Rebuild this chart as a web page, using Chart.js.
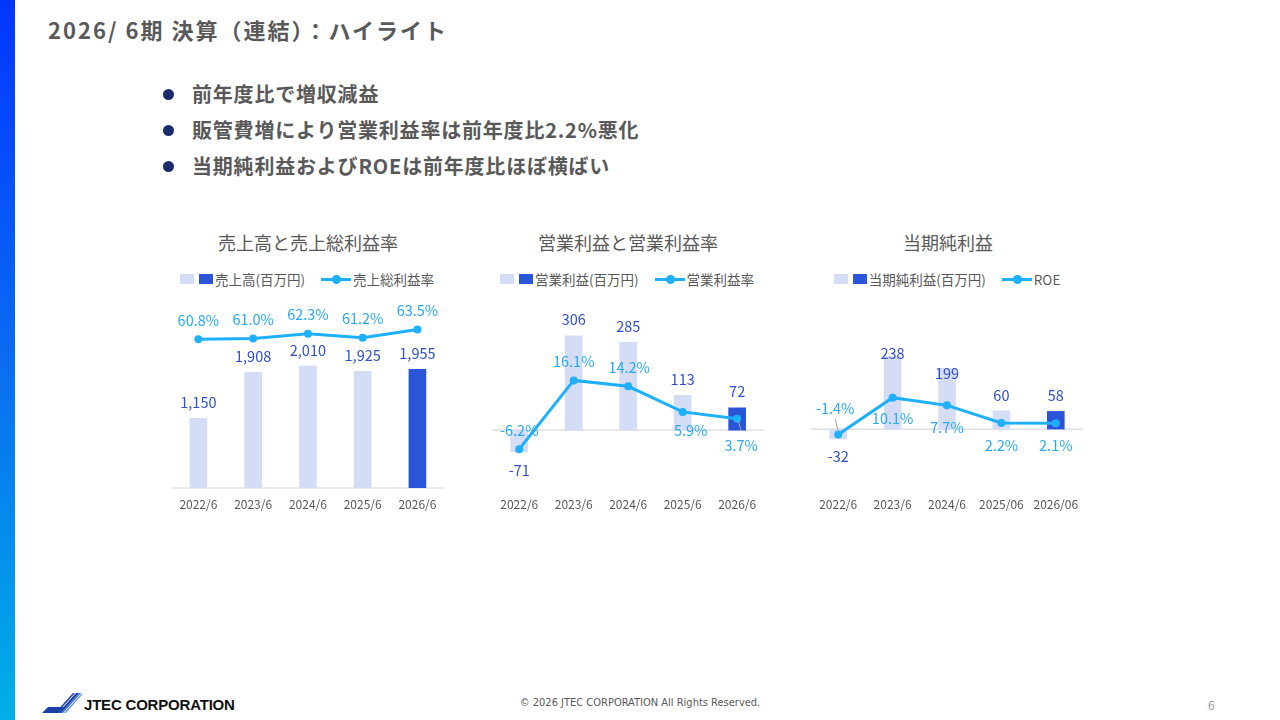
<!DOCTYPE html>
<html lang="ja">
<head>
<meta charset="utf-8">
<script src="https://cdn.jsdelivr.net/npm/chart.js@4.4.1/dist/chart.umd.min.js"></script>
<style>
  html,body{margin:0;padding:0;background:#fff;}
  body{width:1280px;height:720px;position:relative;overflow:hidden;font-family:"Noto Sans CJK JP","Noto Sans",sans-serif;color:#595959;}
  .sidebar{position:absolute;left:0;top:0;width:15px;height:720px;background:linear-gradient(to bottom,#0236ff 0%,#0a6cf0 50%,#00b0e6 100%);}
  .title{position:absolute;left:48px;top:13px;font-size:22px;font-weight:700;color:#595959;letter-spacing:2px;white-space:nowrap;}
  .bullets{position:absolute;left:160px;top:77px;margin:0;padding:0;list-style:none;}
  .bullets li{position:relative;height:36px;line-height:33px;padding-left:32px;font-size:20px;font-weight:700;color:#595959;white-space:nowrap;letter-spacing:0.8px;}
  .bullets li::before{content:"";position:absolute;left:3px;top:12px;width:11px;height:11px;border-radius:50%;background:#1b2a6b;}
  .ctitle{position:absolute;top:229px;width:320px;text-align:center;font-size:18px;color:#595959;}
  .legend{position:absolute;top:269px;width:320px;display:flex;justify-content:center;align-items:center;font-size:13.5px;color:#595959;white-space:nowrap;}
  .sw{display:inline-block;width:14px;height:10px;}
  .sw.l{background:#d5dcf6;margin-right:5px;}
  .sw.d{background:#2b55d9;margin-right:2px;}
  .ln{display:inline-block;position:relative;width:30px;height:3px;background:#1eb0fc;margin-left:16px;margin-right:2px;}
  .ln::after{content:"";position:absolute;left:11px;top:-3px;width:9px;height:9px;border-radius:50%;background:#1eb0fc;}
  .cw{position:absolute;}
  .foot{position:absolute;top:696px;left:0;width:1280px;text-align:center;font-size:11px;color:#595959;font-family:"Liberation Sans Narrow","DejaVu Sans Condensed",sans-serif;}
  .page{position:absolute;left:1208px;top:696px;font-size:12px;color:#9a9a9a;}
  .logo{position:absolute;left:42px;top:693px;}
  .logotext{position:absolute;left:84px;top:696px;font-family:"Liberation Sans",Arial,sans-serif;font-weight:700;font-size:15px;color:#111;letter-spacing:-0.2px;}
</style>
</head>
<body>
<div class="sidebar"></div>
<div class="title">2026/ 6期 決算（連結）：ハイライト</div>
<ul class="bullets">
  <li>前年度比で増収減益</li>
  <li>販管費増により営業利益率は前年度比2.2%悪化</li>
  <li>当期純利益およびROEは前年度比ほぼ横ばい</li>
</ul>

<div class="ctitle" style="left:148px">売上高と売上総利益率</div>
<div class="ctitle" style="left:468px">営業利益と営業利益率</div>
<div class="ctitle" style="left:788px">当期純利益</div>

<div class="legend" style="left:147px"><span class="sw l"></span><span class="sw d"></span>売上高(百万円)<span class="ln"></span>売上総利益率</div>
<div class="legend" style="left:467px"><span class="sw l"></span><span class="sw d"></span>営業利益(百万円)<span class="ln"></span>営業利益率</div>
<div class="legend" style="left:787px"><span class="sw l"></span><span class="sw d"></span>当期純利益(百万円)<span class="ln"></span>ROE</div>

<div class="cw" id="w1" style="left:150.6px;top:290px;width:313.8px;height:226px"><canvas id="c1"></canvas></div>
<div class="cw" id="w2" style="left:471.8px;top:290px;width:312.4px;height:226px"><canvas id="c2"></canvas></div>
<div class="cw" id="w3" style="left:791px;top:290px;width:312px;height:226px"><canvas id="c3"></canvas></div>

<svg class="logo" width="40" height="20" viewBox="0 0 40 20">
  <polygon points="0,20 6,14 22,14 16,20" fill="#1d3fa8"/>
  <polygon points="16,20 34,0 37,0 19,20" fill="#1d3fa8"/>
  <polygon points="19,20 37,0 39,0 21,20" fill="#3b6bd6"/>
  <polygon points="22,20 40,0 40,2 24,20" fill="#6f98e8"/>
  <polygon points="13,20 31,0 33,0 15,20" fill="#1d3fa8"/>
</svg>
<div class="logotext">JTEC CORPORATION</div>
<div class="foot">© 2026 JTEC CORPORATION All Rights Reserved.</div>
<div class="page">6</div>

<script>
// ---- data ----
const categories = ['2022/6','2023/6','2024/6','2025/6','2026/6'];
const categoriesNet = ['2022/6','2023/6','2024/6','2025/06','2026/06'];
const sales = [1150, 1908, 2010, 1925, 1955];
const grossMargin = [60.8, 61.0, 62.3, 61.2, 63.5];
const opProfit = [-71, 306, 285, 113, 72];
const opMargin = [-6.2, 16.1, 14.2, 5.9, 3.7];
const netIncome = [-32, 238, 199, 60, 58];
const roe = [-1.4, 10.1, 7.7, 2.2, 2.1];

// ---- styles ----
const LIGHT = '#d5dcf6', DARK = '#2b55d9', LINE = '#1eb0fc';
const BAR_LABEL = '#2f4fd0', LINE_LABEL = '#27a9f6';
const FONT = '"Noto Sans CJK JP","Noto Sans",sans-serif';

const labelPlugin = {
  id: 'valueLabels',
  beforeDatasetsDraw(chart) {
    const {ctx, chartArea} = chart;
    const y0 = chart.scales.y.getPixelForValue(0);
    ctx.save();
    ctx.strokeStyle = '#d9d9d9';
    ctx.lineWidth = 1.2;
    ctx.beginPath();
    ctx.moveTo(chartArea.left, y0);
    ctx.lineTo(chartArea.right, y0);
    ctx.stroke();
    ctx.restore();
  },
  afterDatasetsDraw(chart) {
    const {ctx} = chart;
    const cfg = chart.options.plugins.valueLabels || {};
    ctx.save();
    ctx.textAlign = 'center';
    ctx.textBaseline = 'middle';
    ctx.font = '14.5px ' + FONT;
    chart.data.datasets.forEach((ds, di) => {
      const meta = chart.getDatasetMeta(di);
      meta.data.forEach((el, i) => {
        const v = ds.data[i];
        if (ds.type === 'bar') {
          const dy = (cfg.barDy && cfg.barDy[i] != null) ? cfg.barDy[i] : (v >= 0 ? -16 : 19);
          ctx.fillStyle = BAR_LABEL;
          ctx.fillText(v.toLocaleString('en-US'), el.x, el.y + dy);
        } else {
          const dy = (cfg.lineDy && cfg.lineDy[i] != null) ? cfg.lineDy[i] : -19;
          const dx = (cfg.lineDx && cfg.lineDx[i] != null) ? cfg.lineDx[i] : 0;
          if (cfg.leaders && cfg.leaders[i]) {
            const L = cfg.leaders[i];
            ctx.strokeStyle = '#a6a6a6';
            ctx.lineWidth = 1;
            ctx.beginPath();
            ctx.moveTo(el.x + L[0], el.y + L[1]);
            ctx.lineTo(el.x + L[2], el.y + L[3]);
            ctx.stroke();
          }
          ctx.fillStyle = LINE_LABEL;
          ctx.fillText(v.toFixed(1) + '%', el.x + dx, el.y + dy);
        }
      });
    });
    ctx.restore();
  }
};

function makeChart(id, labels, bars, line, yr, y1r, labelCfg) {
  return new Chart(document.getElementById(id), {
    data: {
      labels: labels,
      datasets: [
        {
          type: 'line', data: line, yAxisID: 'y1', order: 0,
          borderColor: LINE, backgroundColor: LINE, borderWidth: 3,
          pointRadius: 4, pointBackgroundColor: LINE, pointBorderWidth: 0, tension: 0
        },
        {
          type: 'bar', data: bars, yAxisID: 'y', order: 1,
          backgroundColor: bars.map((_, i) => i === bars.length - 1 ? DARK : LIGHT),
          barThickness: 17, borderWidth: 0
        }
      ]
    },
    options: {
      responsive: true, maintainAspectRatio: false, animation: false,
      layout: {padding: {left: 20, right: 20, top: 10, bottom: 0}},
      plugins: {legend: {display: false}, tooltip: {enabled: false}, valueLabels: labelCfg},
      scales: {
        x: {
          grid: {display: false}, border: {display: false},
          ticks: {color: '#595959', font: {family: FONT, size: 12}, padding: 1, maxRotation: 0},
          afterFit: (s) => { s.height = 28; }
        },
        y: {display: false, min: yr[0], max: yr[1]},
        y1: {display: false, min: y1r[0], max: y1r[1]}
      }
    },
    plugins: [labelPlugin]
  });
}

makeChart('c1', categories, sales, grossMargin, [0, 3100], [19.5, 71.7], {});
makeChart('c2', categories, opProfit, opMargin, [-188, 422], [-18.8, 42.2], {
  lineDy: [-19, -19, -19, 19, 27],
  lineDx: [0, 0, 1, 8, 4],
  leaders: {4: [1, 2, 4, 12]}
});
makeChart('c3', categoriesNet, netIncome, roe, [-193, 423], [-18.1, 40.6], {
  barDy: [18, -3, 5, -15, -16],
  lineDy: [-26, 21, 22, 22, 22],
  lineDx: [-3, 0, 0, 0, 0],
  leaders: {0: [-3, -16, 0, -3]}
});
</script>
</body>
</html>
